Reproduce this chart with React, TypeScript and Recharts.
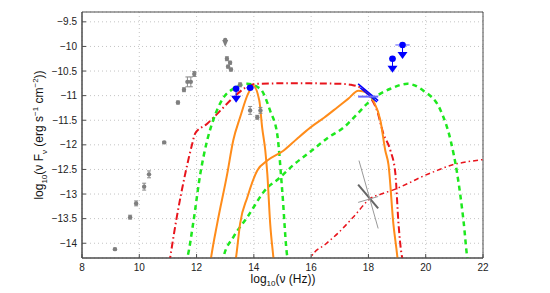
import React from 'react';
import { ComposedChart, Line, Scatter, ErrorBar, XAxis, YAxis, CartesianGrid, ReferenceArea } from 'recharts';

// log10(nu) / log10(nu F_nu)
const xTicks = [8, 10, 12, 14, 16, 18, 20, 22];
const yTicks = [-14, -13.5, -13, -12.5, -12, -11.5, -11, -10.5, -10, -9.5];

const redSedX = [11.05, 11.3, 11.6, 11.84, 11.95, 12.37, 12.82, 13.28, 13.7, 14.1, 15, 16, 17.02, 17.4, 17.72, 18.07, 18.3, 18.52, 18.77, 18.94, 19.05, 19.15, 19.25];
const redSedY = [-14.4, -13.5, -12.6, -12.0, -11.77, -11.57, -11.31, -11.04, -10.84, -10.76, -10.75, -10.75, -10.76, -10.78, -10.84, -11.04, -11.3, -11.77, -12.12, -12.58, -13.6, -14.2, -14.4];

const redIcX = [15.9, 16.0, 16.5, 16.93, 17.5, 18.07, 18.5, 18.94, 19.4, 19.82, 20.4, 20.97, 21.5, 22.0];
const redIcY = [-14.4, -14.28, -14.02, -13.8, -13.45, -13.09, -12.99, -12.9, -12.78, -12.66, -12.52, -12.4, -12.34, -12.3];

const greenAX = [11.6, 11.68, 11.88, 12.13, 12.37, 12.58, 12.94, 13.28, 13.77, 14.22, 14.57, 14.82, 14.99, 15.17, 15.25];
const greenAY = [-14.4, -14.28, -13.6, -12.59, -11.91, -11.5, -11.04, -10.86, -10.76, -10.86, -11.31, -11.8, -12.93, -14.28, -14.4];

const greenBX = [12.9, 12.94, 13.28, 13.77, 14.47, 14.8, 15.4, 16.1, 16.6, 17.13, 17.6, 18.07, 18.77, 19.36, 19.92, 20.52, 20.87, 21.1, 21.33, 21.45, 21.5];
const greenBY = [-14.4, -14.28, -13.88, -13.47, -12.87, -12.72, -12.4, -12.08, -11.85, -11.65, -11.38, -11.1, -10.86, -10.76, -10.9, -11.3, -11.91, -12.59, -13.6, -14.28, -14.4];

const orangeAX = [12.48, 12.51, 12.72, 13.07, 13.28, 13.52, 13.8, 13.98, 14.19, 14.29, 14.4, 14.47, 14.57, 14.68, 14.7];
const orangeAY = [-14.4, -14.28, -13.6, -12.59, -11.91, -11.44, -10.96, -10.8, -11.1, -11.65, -12.12, -12.59, -13.6, -14.28, -14.4];

const orangeBX = [13.35, 13.38, 13.52, 13.77, 14.12, 14.47, 15.03, 15.5, 15.97, 16.45, 16.91, 17.3, 17.65, 17.95, 18.17, 18.42, 18.59, 18.7, 18.87, 19.01, 19.03];
const orangeBY = [-14.4, -14.28, -13.6, -13.07, -12.52, -12.32, -12.12, -11.88, -11.65, -11.45, -11.24, -11.06, -10.9, -10.94, -11.1, -11.51, -12.12, -12.4, -13.6, -14.28, -14.4];

const grayX = [9.15, 9.68, 9.89, 10.17, 10.34, 10.87, 11.35, 11.56, 11.68, 11.8, 11.92, 13.06, 13.17, 13.1, 13.2, 13.52, 13.87, 14.12, 14.23];
const grayY = [-14.12, -13.47, -13.19, -12.85, -12.6, -11.95, -11.14, -10.88, -10.72, -10.72, -10.56, -10.25, -10.33, -10.41, -10.47, -10.78, -11.3, -11.44, -11.3];
const grayErr = [0.02, 0.04, 0.05, 0.07, 0.07, 0.02, 0.03, 0.04, 0.1, 0.1, 0.05, 0.04, 0.03, 0.03, 0.03, 0.04, 0.08, 0.04, 0.06];

const grayLimitX = [13.0];
const grayLimitY = [-9.87];

const blueLimitX = [13.38, 18.84, 19.19];
const blueLimitY = [-10.86, -10.25, -9.97];
const blueLimitXErr = [0.1, 0.12, 0.25];

const blueX = [13.87];
const blueY = [-10.84];
const blueXErr = [0.15];

// bowtie segments [x1, y1, x2, y2]
const blueBowtie = [
  [17.64, -10.76, 18.34, -11.1],
  [17.71, -10.84, 18.3, -11.13],
  [17.64, -11.02, 18.34, -11.02],
];
const grayBowtie = [
  [17.64, -12.81, 18.34, -13.29],
  [17.67, -12.32, 18.34, -13.7],
  [17.64, -13.17, 18.34, -13.05],
];

const zip = (xs: number[], ys: number[]) => xs.map((x, i) => ({ x, y: ys[i] }));

const FONT = '"Liberation Sans", Arial, sans-serif';
const AXIS = '#4d4d4d';

const BottomTick = (p: any) => (
  <g>
    <line x1={p.x} y1={p.y} x2={p.x} y2={p.y - 4} stroke={AXIS} />
    <text x={p.x} y={p.y + 13} textAnchor="middle" fontSize={10} fill="#222" fontFamily={FONT}>{p.payload.value}</text>
  </g>
);
const LeftTick = (p: any) => (
  <g>
    <line x1={p.x} y1={p.y} x2={p.x + 4} y2={p.y} stroke={AXIS} />
    <text x={p.x - 5} y={p.y} dy="0.35em" textAnchor="end" fontSize={10} fill="#222" fontFamily={FONT}>
      {String(p.payload.value).replace('-', '\u2212')}
    </text>
  </g>
);
const TopTick = (p: any) => <line x1={p.x} y1={p.y} x2={p.x} y2={p.y + 4} stroke={AXIS} />;
const RightTick = (p: any) => <line x1={p.x} y1={p.y} x2={p.x - 4} y2={p.y} stroke={AXIS} />;

const GrayDot = (p: any) => <circle cx={p.cx} cy={p.cy} r={2.2} fill="#7f7f7f" />;
const BlueDot = (p: any) => <circle cx={p.cx} cy={p.cy} r={3.3} fill="#0000ff" />;
const NoDot = () => null;

const makeLimit = (color: string, r: number, len: number, w: number) => (p: any) => (
  <g>
    <line x1={p.cx} y1={p.cy} x2={p.cx} y2={p.cy + len} stroke={color} strokeWidth={1} />
    <polygon points={`${p.cx - w},${p.cy + len - 5} ${p.cx + w},${p.cy + len - 5} ${p.cx},${p.cy + len + 2}`} fill={color} />
    <circle cx={p.cx} cy={p.cy} r={r} fill={color} />
  </g>
);
const GrayLimit = makeLimit('#7f7f7f', 2.2, 5, 3);
const BlueLimit = makeLimit('#0000ff', 3.3, 12, 5);

const curves = [
  { data: zip(redSedX, redSedY), color: '#e8141c', dash: '7 3 1.5 3', width: 2 },
  { data: zip(redIcX, redIcY), color: '#e8141c', dash: '5 3 1.5 3', width: 1.5 },
  { data: zip(greenAX, greenAY), color: '#1ee81e', dash: '5 4', width: 2.5 },
  { data: zip(greenBX, greenBY), color: '#1ee81e', dash: '5 4', width: 2.5 },
  { data: zip(orangeAX, orangeAY), color: '#ff8c1a', dash: undefined, width: 2 },
  { data: zip(orangeBX, orangeBY), color: '#ff8c1a', dash: undefined, width: 2 },
];

export default function App() {
  const grayData = grayX.map((x, i) => ({ x, y: grayY[i], err: grayErr[i] }));
  const blueLimitData = blueLimitX.map((x, i) => ({ x, y: blueLimitY[i], xe: blueLimitXErr[i] }));
  const blueData = blueX.map((x, i) => ({ x, y: blueY[i], xe: blueXErr[i] }));

  return (
    <div style={{ position: 'absolute', left: 0, top: 0, width: 550, height: 293, background: '#fff', fontFamily: FONT }}>
      <ComposedChart width={550} height={293} margin={{ top: 12, right: 67, bottom: 0, left: 0 }}>
        <CartesianGrid stroke="#c4c4c4" strokeDasharray="1 3" />
        <XAxis dataKey="x" type="number" domain={[8, 22]} ticks={xTicks} allowDataOverflow
          height={35} tickSize={0} tickMargin={0} stroke={AXIS} tick={BottomTick} interval={0} />
        <XAxis xAxisId="top" dataKey="x" orientation="top" type="number" domain={[8, 22]} ticks={xTicks} allowDataOverflow
          height={0} tickSize={0} tickMargin={0} stroke={AXIS} tick={TopTick} interval={0} />
        <YAxis type="number" domain={[-14.3, -9.3]} ticks={yTicks} allowDataOverflow
          width={82} tickSize={0} tickMargin={0} stroke={AXIS} tick={LeftTick} interval={0} />
        <YAxis yAxisId="right" orientation="right" type="number" domain={[-14.3, -9.3]} ticks={yTicks} allowDataOverflow
          width={0} tickSize={0} tickMargin={0} stroke={AXIS} tick={RightTick} interval={0} />

        <ReferenceArea x1={8} x2={22} y1={-14.3} y2={-9.3} fill="none" stroke={AXIS} strokeWidth={1} ifOverflow="visible" />

        {curves.map((c, i) => (
          <Line key={'c' + i} data={c.data} dataKey="y" type="monotone" stroke={c.color}
            strokeWidth={c.width} strokeDasharray={c.dash} dot={false} isAnimationActive={false} />
        ))}

        {blueBowtie.map((s, i) => (
          <Line key={'bb' + i} data={[{ x: s[0], y: s[1] }, { x: s[2], y: s[3] }]} dataKey="y" type="linear"
            stroke={i === 2 ? '#6a6aff' : '#0000ff'} strokeWidth={i === 2 ? 2 : 1.5} dot={false} isAnimationActive={false} />
        ))}
        {grayBowtie.map((s, i) => (
          <Line key={'gb' + i} data={[{ x: s[0], y: s[1] }, { x: s[2], y: s[3] }]} dataKey="y" type="linear"
            stroke={i === 0 ? '#666' : '#999'} strokeWidth={i === 0 ? 2 : 1} dot={false} isAnimationActive={false} />
        ))}

        <Scatter data={grayData} dataKey="y" shape={GrayDot} isAnimationActive={false}>
          <ErrorBar dataKey="err" direction="y" width={2} stroke="#8a8a8a" strokeWidth={1} />
        </Scatter>
        <Scatter data={zip(grayLimitX, grayLimitY)} dataKey="y" shape={GrayLimit} isAnimationActive={false} />
        <Scatter data={blueLimitData} dataKey="y" shape={BlueLimit} isAnimationActive={false}>
          <ErrorBar dataKey="xe" direction="x" width={0} stroke="#7070ff" strokeWidth={1.2} />
        </Scatter>
        <Scatter data={blueData} dataKey="y" shape={BlueDot} isAnimationActive={false}>
          <ErrorBar dataKey="xe" direction="x" width={0} stroke="#7070ff" strokeWidth={1.2} />
        </Scatter>

        {/* invisible series that keeps the mirrored top/right axes rendered */}
        <Scatter data={grayData} dataKey="y" xAxisId="top" yAxisId="right" shape={NoDot} isAnimationActive={false} />
      </ComposedChart>

      <div style={{ position: 'absolute', left: 283, top: 273, transform: 'translateX(-50%)', fontSize: 12, lineHeight: '13px', whiteSpace: 'nowrap', color: '#111' }}>
        log<sub style={{ fontSize: 8, lineHeight: 0 }}>10</sub>(ν (Hz))
      </div>
      <div style={{ position: 'absolute', left: 40, top: 135, transform: 'translate(-50%, -50%) rotate(-90deg)', fontSize: 12, whiteSpace: 'nowrap', color: '#111' }}>
        log<sub style={{ fontSize: 8 }}>10</sub>(ν F<sub style={{ fontSize: 8 }}>ν</sub> (erg s<sup style={{ fontSize: 8 }}>−1</sup> cm<sup style={{ fontSize: 8 }}>−2</sup>))
      </div>
    </div>
  );
}
